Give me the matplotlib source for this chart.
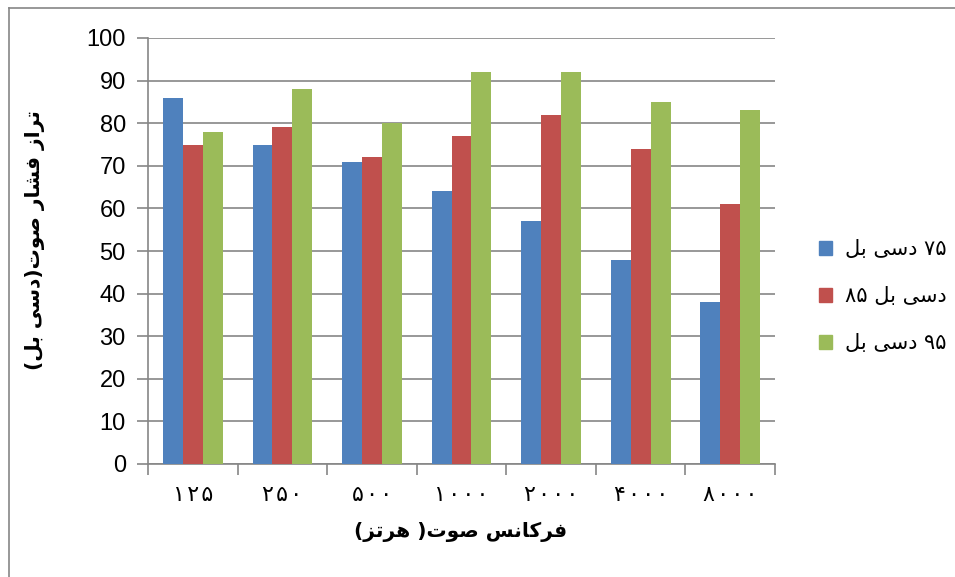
import re
import numpy as np
import matplotlib
matplotlib.use("Agg")
from matplotlib import pyplot as plt
from matplotlib.patches import Patch

# data
categories = ['۱۲۵', '۲۵۰', '۵۰۰', '۱۰۰۰', '۲۰۰۰', '۴۰۰۰', '۸۰۰۰']
series_names = ['۷۵ دسی بل', 'دسی بل ۸۵', '۹۵ دسی بل']
db75 = [86, 75, 71, 64, 57, 48, 38]
db85 = [75, 79, 72, 77, 82, 74, 61]
db95 = [78, 88, 80, 92, 92, 85, 83]
colors = ['#4F81BD', '#C0504D', '#9BBB59']
xlabel = 'فرکانس صوت( هرتز)'
ylabel = 'تراز فشار صوت(دسی بل)'

# isolated, final, initial, medial presentation forms
FORMS = {
    'ا': ('\uFE8D', '\uFE8E', None, None),
    'ب': ('\uFE8F', '\uFE90', '\uFE91', '\uFE92'),
    'ت': ('\uFE95', '\uFE96', '\uFE97', '\uFE98'),
    'د': ('\uFEA9', '\uFEAA', None, None),
    'ر': ('\uFEAD', '\uFEAE', None, None),
    'ز': ('\uFEAF', '\uFEB0', None, None),
    'س': ('\uFEB1', '\uFEB2', '\uFEB3', '\uFEB4'),
    'ش': ('\uFEB5', '\uFEB6', '\uFEB7', '\uFEB8'),
    'ص': ('\uFEB9', '\uFEBA', '\uFEBB', '\uFEBC'),
    'ف': ('\uFED1', '\uFED2', '\uFED3', '\uFED4'),
    'ل': ('\uFEDD', '\uFEDE', '\uFEDF', '\uFEE0'),
    'ن': ('\uFEE5', '\uFEE6', '\uFEE7', '\uFEE8'),
    'ه': ('\uFEE9', '\uFEEA', '\uFEEB', '\uFEEC'),
    'و': ('\uFEED', '\uFEEE', None, None),
    'ی': ('\uFBFC', '\uFBFD', '\uFBFE', '\uFBFF'),
    'ک': ('\uFB8E', '\uFB8F', '\uFB90', '\uFB91'),
}


def shape(s):
    out = []
    for i, c in enumerate(s):
        if c not in FORMS:
            out.append(c)
            continue
        iso, fin, ini, med = FORMS[c]
        prev = s[i - 1] if i > 0 else ''
        nxt = s[i + 1] if i + 1 < len(s) else ''
        jp = prev in FORMS and FORMS[prev][2] is not None
        jn = ini is not None and nxt in FORMS
        if jp and jn:
            out.append(med)
        elif jp:
            out.append(fin)
        elif jn:
            out.append(ini)
        else:
            out.append(iso)
    return ''.join(out)


def rtl(s):
    # shape, lay out right to left, keep digit runs left to right
    t = shape(s)[::-1]
    t = t.translate({ord('('): ')', ord(')'): '('})
    return re.sub('[۰-۹]+', lambda m: m.group(0)[::-1], t)


plt.rcParams['font.family'] = ['Liberation Sans', 'DejaVu Sans']

fig = plt.figure(figsize=(9.55, 5.77), dpi=100)
ax = fig.add_axes([148 / 955, 1 - 464 / 577, (775 - 148) / 955, (464 - 38) / 577])

x = np.arange(len(categories))
w = 1 / 4.5
for k, vals in enumerate([db75, db85, db95]):
    ax.bar(x + (k - 1) * w, vals, width=w, color=colors[k], zorder=3)

gray = '#868686'
ax.set_xlim(-0.5, len(categories) - 0.5)
ax.set_ylim(0, 100)
ax.set_yticks(range(0, 101, 10))
ax.yaxis.grid(True, color=gray, linewidth=1.2, zorder=0)
ax.set_xticks(np.arange(-0.5, len(categories), 1.0))
ax.set_xticklabels([])
ax.set_xticks(x, minor=True)
# Persian digits sit a little apart in the reference
ax.set_xticklabels(['\u200a'.join(rtl(c)) for c in categories], minor=True,
                   fontsize=16, family=['DejaVu Sans'])
ax.tick_params(axis='x', which='minor', length=0, pad=15)
ax.tick_params(axis='x', which='major', length=8, width=1.2, color=gray)
ax.tick_params(axis='y', length=8, width=1.2, color=gray, labelsize=17, pad=8)
for side in ['top', 'right']:
    ax.spines[side].set_visible(False)
for side in ['left', 'bottom']:
    ax.spines[side].set_color(gray)
    ax.spines[side].set_linewidth(1.2)

fig.text(461 / 955, 1 - 532 / 577, rtl(xlabel), ha='center', va='center',
         fontsize=14.5, fontweight='bold', family=['DejaVu Sans'])
fig.text(35 / 955, 1 - 240 / 577, rtl(ylabel), ha='center', va='center',
         rotation=90, fontsize=14.5, fontweight='bold', family=['DejaVu Sans'])

handles = [Patch(color=c) for c in colors]
fig.legend(handles, [rtl(n) for n in series_names], loc='center left',
           bbox_to_anchor=(800 / 955, 1 - 296 / 577), frameon=False,
           prop={'family': ['DejaVu Sans'], 'size': 15},
           handlelength=0.65, handleheight=0.65, handletextpad=0.6,
           labelspacing=1.3)

# chart area border
fig.add_artist(plt.Line2D([9 / 955, 9 / 955], [0, 1 - 8 / 577], color=gray,
                          linewidth=1.2))
fig.add_artist(plt.Line2D([9 / 955, 1], [1 - 8 / 577, 1 - 8 / 577], color=gray,
                          linewidth=1.2))

fig.savefig('out.png', dpi=100)
